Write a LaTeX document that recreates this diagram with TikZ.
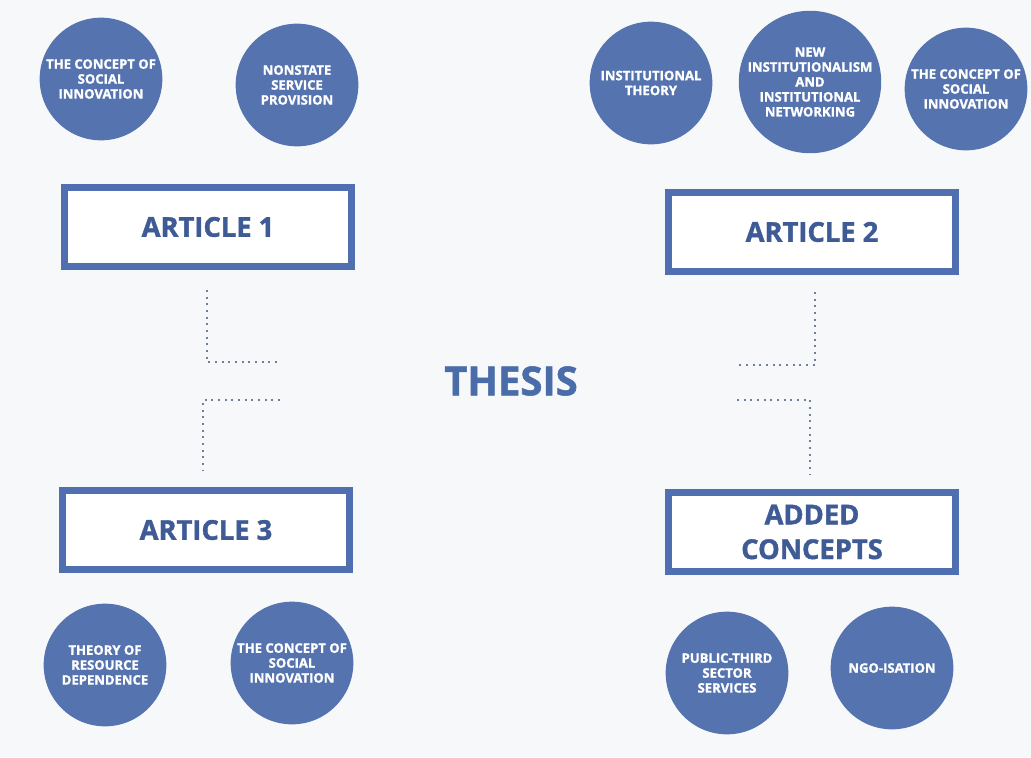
\documentclass[tikz,border=0pt]{standalone}
\usepackage{fontspec}
\setmainfont{Open Sans}[BoldFeatures={FakeBold=1.4}]
\definecolor{bgcol}{HTML}{F7F8FA}
\definecolor{discblue}{HTML}{5573AF}
\definecolor{framecol}{HTML}{4F6FB0}
\definecolor{labelblue}{HTML}{3F5B95}
\definecolor{thesisblue}{HTML}{4A6DAA}
\definecolor{dotcol}{HTML}{707F9C}
\begin{document}
\begin{tikzpicture}[x=0.75pt, y=-0.75pt,
  every node/.style={align=center, font=\bfseries},
  disc/.style={circle, fill=discblue, text=white, minimum size=92pt, inner sep=0pt,
    font=\bfseries\fontsize{9.8}{11.2}\selectfont},
  article/.style={draw=framecol, line width=5.2pt, fill=white, minimum width=215pt,
    minimum height=59pt, text=labelblue, font=\bfseries\fontsize{20.5}{26}\selectfont},
  dots/.style={draw=dotcol, line width=1.6pt, dash pattern=on 1.4pt off 3.6pt}]
  \fill[bgcol] (0,0) rectangle (1031,757);
  \useasboundingbox (0,0) rectangle (1031,757);

  % Centre
  \node[text=thesisblue, font=\bfseries\fontsize{30}{36}\selectfont] (thesis) at (511,381) {THESIS};

  % Article boxes
  \node[article] (a1) at (208,227) {ARTICLE 1};
  \node[article] (a2) at (812,232) {ARTICLE 2};
  \node[article] (a3) at (206,530) {ARTICLE 3};
  \node[article] (a4) at (812,532) {ADDED\\CONCEPTS};

  % Concepts of article 1
  \node[disc] (c11) at (101,79) {THE CONCEPT OF\\SOCIAL\\INNOVATION};
  \node[disc] (c12) at (297,85) {NONSTATE\\SERVICE\\PROVISION};

  % Concepts of article 2
  \node[disc] (c21) at (651,83) {INSTITUTIONAL\\THEORY};
  \node[disc] (c22) at (810,82) {NEW\\INSTITUTIONALISM\\AND\\INSTITUTIONAL\\NETWORKING};
  \node[disc] (c23) at (966,89) {THE CONCEPT OF\\SOCIAL\\INNOVATION};

  % Concepts of article 3
  \node[disc] (c31) at (105,665) {THEORY OF\\RESOURCE\\DEPENDENCE};
  \node[disc] (c32) at (292,663) {THE CONCEPT OF\\SOCIAL\\INNOVATION};

  % Added concepts
  \node[disc] (c41) at (727,673) {PUBLIC-THIRD\\SECTOR\\SERVICES};
  \node[disc] (c42) at (892,668) {NGO-ISATION};

  % Dotted links to the thesis
  \coordinate (t1) at (207,290);
  \coordinate (h1) at (280,362);
  \coordinate (t2) at (815,292);
  \coordinate (h2) at (737,365);
  \coordinate (t3) at (203,470);
  \coordinate (h3) at (280,400);
  \coordinate (t4) at (810,475);
  \coordinate (h4) at (737,400);
  \draw[dots] (t1) |- (h1);
  \draw[dots] (t2) |- (h2);
  \draw[dots] (h3) -| (t3);
  \draw[dots] (h4) -| (t4);
\end{tikzpicture}
\end{document}
